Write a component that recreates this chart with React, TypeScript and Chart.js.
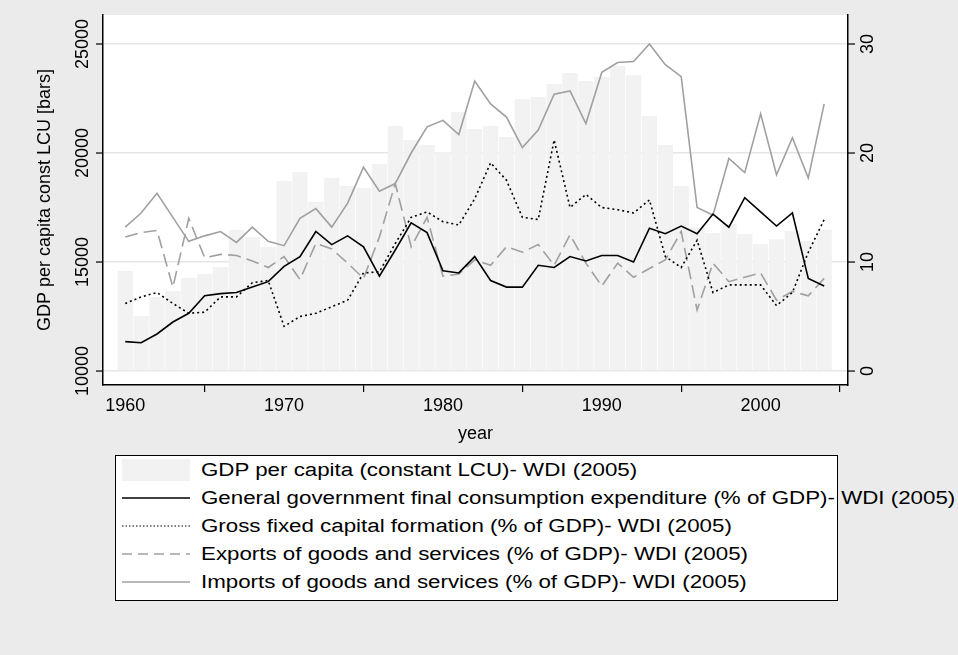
import { useEffect, useRef } from 'react';
import { Chart, registerables } from 'chart.js';

Chart.register(...registerables);

const years = Array.from({ length: 45 }, (_, i) => 1960 + i);

const gdpPerCapita = [
  14590, 12520, 13400, 13670, 14270, 14450, 14770, 16470, 16150, 15690,
  18720, 19130, 17750, 18850, 18490, 18390, 19500, 21240, 20600, 20370,
  20050, 21880, 21100, 21240, 20730, 22480, 22570, 23160, 23670, 23300,
  23490, 23990, 23580, 21700, 20370, 18490, 16600, 16330, 16740, 16280,
  15830, 16050, 16420, 15960, 16470,
];
const govConsumption = [
  2.7, 2.6, 3.4, 4.5, 5.3, 6.9, 7.1, 7.2, 7.7, 8.2,
  9.6, 10.5, 12.8, 11.6, 12.4, 11.4, 8.7, 11.1, 13.6, 12.7,
  9.2, 9.0, 10.5, 8.3, 7.7, 7.7, 9.7, 9.5, 10.5, 10.1,
  10.6, 10.6, 10.0, 13.1, 12.6, 13.3, 12.6, 14.4, 13.2, 15.9,
  14.6, 13.3, 14.5, 8.5, 7.8,
];
const grossCapital = [
  6.2, 6.8, 7.2, 6.2, 5.3, 5.4, 6.8, 6.8, 8.1, 8.3,
  4.1, 5.0, 5.3, 5.9, 6.5, 9.0, 9.1, 11.7, 14.1, 14.6,
  13.7, 13.4, 15.8, 19.1, 17.5, 14.1, 13.9, 21.2, 15.0, 16.2,
  15.0, 14.8, 14.5, 15.7, 10.5, 9.5, 12.0, 7.2, 7.9, 7.9,
  7.9, 6.0, 7.2, 10.9, 13.9,
];
const exportsGdp = [
  12.3, 12.7, 12.9, 7.7, 14.0, 10.4, 10.7, 10.6, 10.1, 9.5,
  10.5, 8.4, 11.7, 11.2, 9.9, 8.5, 12.3, 17.2, 11.4, 14.1,
  8.7, 8.9, 10.2, 9.7, 11.4, 10.9, 11.6, 9.7, 12.5, 9.9,
  7.8, 9.9, 8.6, 9.4, 10.2, 12.8, 5.6, 9.9, 8.2, 8.6,
  9.0, 6.5, 7.3, 6.9, 8.5,
];
const importsGdp = [
  13.2, 14.5, 16.3, 14.1, 11.9, 12.4, 12.8, 11.8, 13.2, 11.9,
  11.5, 14.0, 14.9, 13.2, 15.4, 18.7, 16.5, 17.2, 20.0, 22.4,
  23.0, 21.7, 26.6, 24.5, 23.3, 20.5, 22.1, 25.4, 25.7, 22.7,
  27.4, 28.3, 28.4, 30.0, 28.1, 27.0, 15.0, 14.3, 19.5, 18.2,
  23.6, 18.0, 21.4, 17.7, 24.5,
];

const leftTicks = [10000, 15000, 20000, 25000];
const rightTicks = [0, 10, 20, 30];
const xTicks = [1960, 1970, 1980, 1990, 2000];

const FONT = '"Liberation Sans", Arial, sans-serif';
const GRAY = '#a0a0a0';

const legendItems = [
  { label: 'GDP per capita (constant LCU)- WDI (2005)', kind: 'bar', color: '#f2f2f2' },
  { label: 'General government final consumption expenditure (% of GDP)- WDI (2005)', kind: 'solid', color: '#000' },
  { label: 'Gross fixed capital formation (% of GDP)- WDI (2005)', kind: 'dotted', color: '#000' },
  { label: 'Exports of goods and services (% of GDP)- WDI (2005)', kind: 'dashed', color: GRAY },
  { label: 'Imports of goods and services (% of GDP)- WDI (2005)', kind: 'solid', color: GRAY },
];

const rotatedTicks = {
  id: 'rotatedTicks',
  afterDraw(chart: Chart) {
    const { ctx } = chart;
    const yl = chart.scales.y;
    const yr = chart.scales.y1;
    ctx.save();
    ctx.fillStyle = '#000';
    ctx.strokeStyle = '#000';
    ctx.lineWidth = 1.2;
    ctx.font = `18px ${FONT}`;
    ctx.textAlign = 'center';
    leftTicks.forEach((v) => {
      const py = yl.getPixelForValue(v);
      ctx.beginPath();
      ctx.moveTo(yl.right, py);
      ctx.lineTo(yl.right - 7, py);
      ctx.stroke();
      ctx.save();
      ctx.translate(yl.right - 11, py);
      ctx.rotate(-Math.PI / 2);
      ctx.textBaseline = 'bottom';
      ctx.fillText(String(v), 0, 0);
      ctx.restore();
    });
    rightTicks.forEach((v) => {
      const py = yr.getPixelForValue(v);
      ctx.beginPath();
      ctx.moveTo(yr.left, py);
      ctx.lineTo(yr.left + 7, py);
      ctx.stroke();
      ctx.save();
      ctx.translate(yr.left + 11, py);
      ctx.rotate(-Math.PI / 2);
      ctx.textBaseline = 'top';
      ctx.fillText(String(v), 0, 0);
      ctx.restore();
    });
    ctx.restore();
  },
};

function ChartArea() {
  const ref = useRef<HTMLCanvasElement>(null);

  useEffect(() => {
    if (!ref.current) return;
    const line = (data: number[], color: string, dash: number[] = []) => ({
      type: 'line' as const,
      data: years.map((x, i) => ({ x, y: data[i] })),
      borderColor: color,
      borderWidth: 1.6,
      borderDash: dash,
      pointRadius: 0,
      tension: 0,
      yAxisID: 'y1',
    });
    const chart = new Chart(ref.current, {
      type: 'bar',
      data: {
        datasets: [
          line(govConsumption, '#000'),
          line(grossCapital, '#000', [2, 3]),
          line(exportsGdp, GRAY, [13, 6]),
          line(importsGdp, GRAY),
          {
            type: 'bar',
            data: years.map((x, i) => ({ x, y: gdpPerCapita[i] })),
            backgroundColor: '#f2f2f2',
            barPercentage: 0.96,
            categoryPercentage: 1,
            yAxisID: 'y',
            base: 10000,
          },
        ],
      },
      options: {
        animation: false,
        responsive: false,
        layout: { padding: { top: 15, left: 0, right: 0, bottom: 0 } },
        plugins: { legend: { display: false }, tooltip: { enabled: false } },
        scales: {
          x: {
            type: 'linear',
            offset: false,
            min: 1958.6,
            max: 2005.5,
            afterBuildTicks: (s) => {
              s.ticks = xTicks.map((value) => ({ value }));
            },
            afterFit: (s) => {
              s.height = 60;
            },
            border: { color: '#000', width: 1.5 },
            grid: { drawOnChartArea: false, tickLength: 7, color: '#000', lineWidth: 1.2 },
            ticks: {
              color: '#000',
              font: { family: FONT, size: 18 },
              padding: 3,
              maxRotation: 0,
              callback: (v) => String(v),
            },
            title: { display: true, text: 'year', color: '#000', font: { family: FONT, size: 18 }, padding: 0 },
          },
          y: {
            position: 'left',
            min: 9360,
            max: 26330,
            afterBuildTicks: (s) => {
              s.ticks = leftTicks.map((value) => ({ value }));
            },
            afterFit: (s) => {
              s.width = 103;
            },
            border: { color: '#000', width: 1.5 },
            grid: { color: '#e6e6e6', lineWidth: 1.5, drawTicks: false },
            ticks: { display: false },
            title: {
              display: true,
              text: 'GDP per capita const LCU [bars]',
              color: '#000',
              font: { family: FONT, size: 18 },
              padding: { top: 34, bottom: 0 },
            },
          },
          y1: {
            position: 'right',
            min: -1.28,
            max: 32.66,
            afterBuildTicks: (s) => {
              s.ticks = rightTicks.map((value) => ({ value }));
            },
            afterFit: (s) => {
              s.width = 110;
            },
            border: { color: '#000', width: 1.5 },
            grid: { drawOnChartArea: false, drawTicks: false },
            ticks: { display: false },
          },
        },
      },
      plugins: [rotatedTicks],
    });
    return () => chart.destroy();
  }, []);

  return <canvas ref={ref} width={958} height={445} style={{ position: 'absolute', left: 0, top: 0 }} />;
}

function Swatch({ kind, color }: { kind: string; color: string }) {
  if (kind === 'bar') {
    return <div style={{ width: 68, height: 22, background: color, flex: 'none' }} />;
  }
  const dash = kind === 'dotted' ? '1.5 2' : kind === 'dashed' ? '10 6' : undefined;
  return (
    <svg width={68} height={4} style={{ flex: 'none' }}>
      <line x1={0} y1={2} x2={68} y2={2} stroke={color} strokeWidth={kind === 'dotted' ? 1.2 : 1.5} strokeDasharray={dash} />
    </svg>
  );
}

export default function App() {
  useEffect(() => {
    document.body.style.margin = '0';
  }, []);

  return (
    <div style={{ position: 'relative', width: 958, height: 655, background: '#ebebeb', overflow: 'hidden' }}>
      <div style={{ position: 'absolute', left: 103, top: 15, width: 745, height: 370, background: '#fff' }} />
      <ChartArea />
      <div
        style={{
          position: 'absolute',
          left: 115,
          top: 455,
          width: 723,
          height: 146,
          background: '#fff',
          border: '1px solid #000',
          boxSizing: 'border-box',
          overflow: 'visible',
          fontFamily: FONT,
          fontSize: 18,
        }}
      >
        {legendItems.map((it) => (
          <div key={it.label} style={{ display: 'flex', alignItems: 'center', height: 28, paddingLeft: 6, whiteSpace: 'nowrap' }}>
            <Swatch kind={it.kind} color={it.color} />
            <span style={{ marginLeft: 11, display: 'inline-block', transform: 'scaleX(1.24)', transformOrigin: 'left center' }}>
              {it.label}
            </span>
          </div>
        ))}
      </div>
    </div>
  );
}
